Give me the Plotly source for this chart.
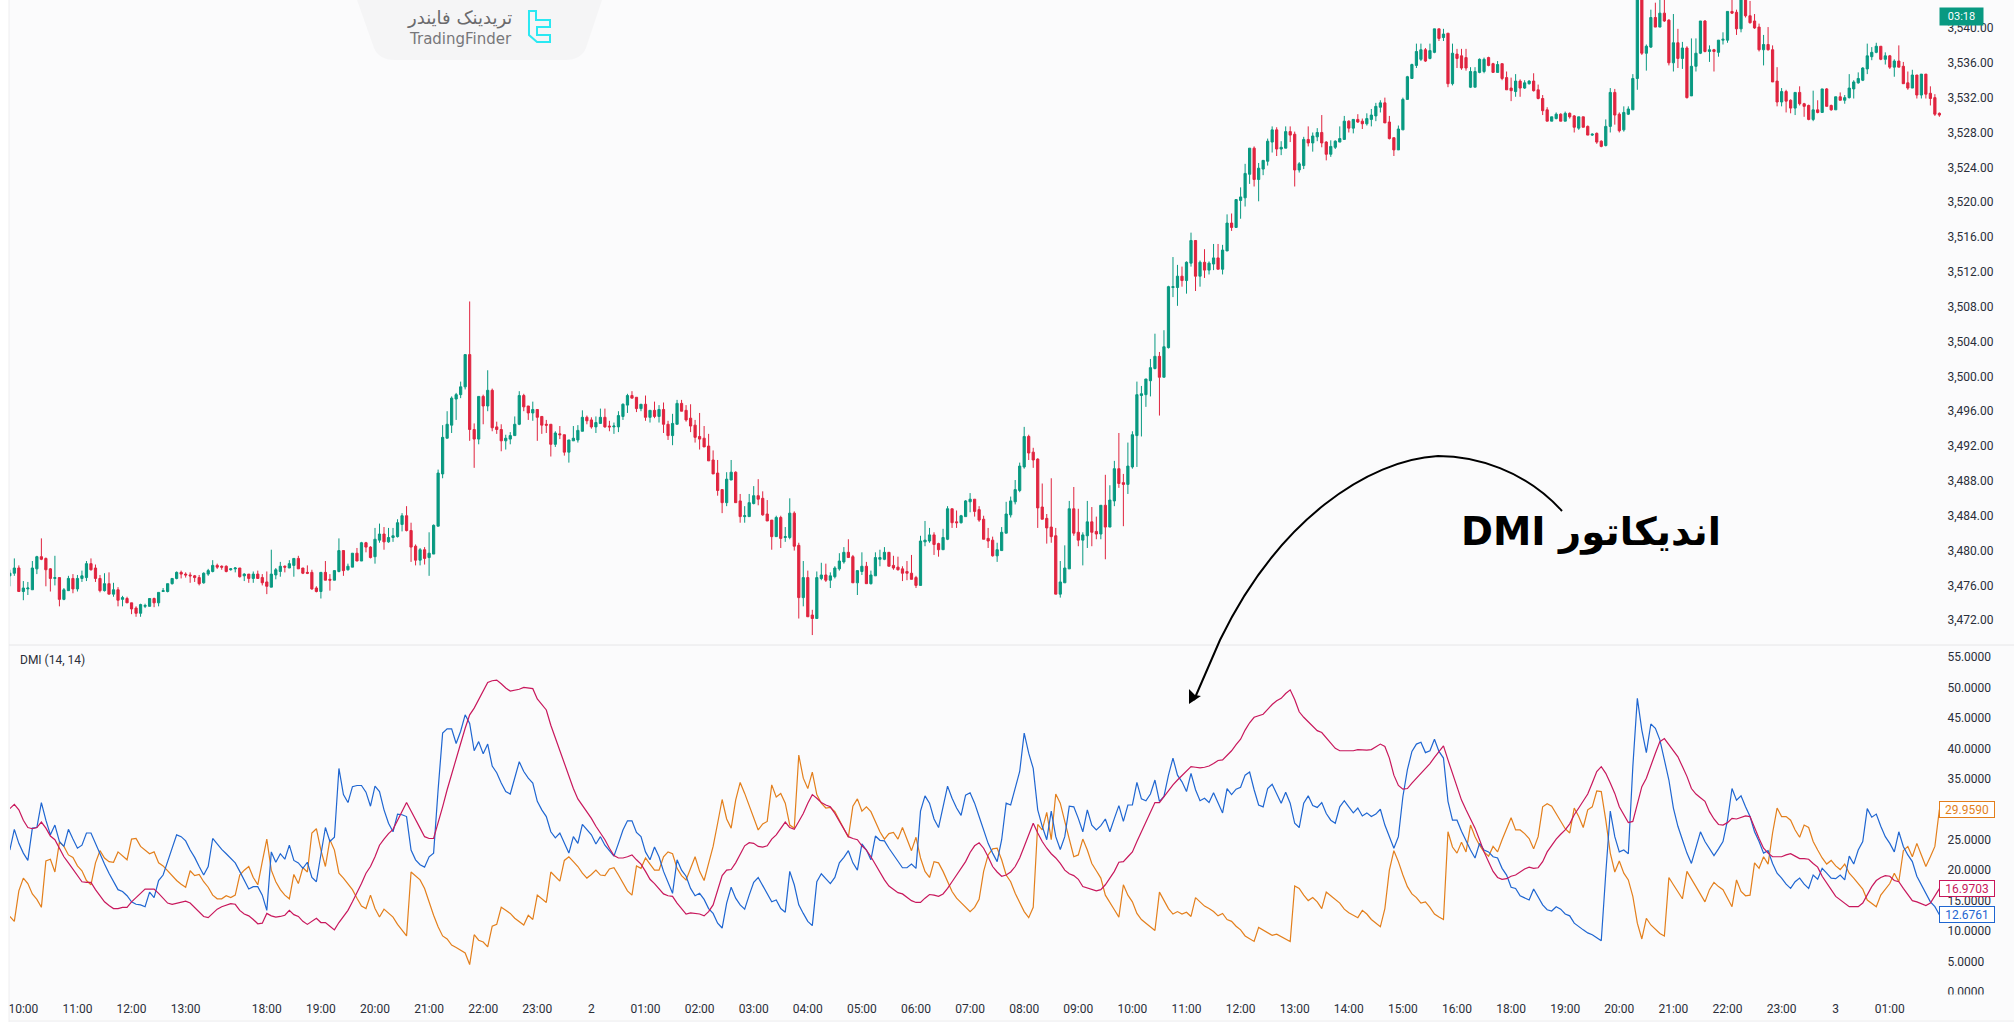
import plotly.graph_objects as go

# ---------- price candles, one row per 5-minute bar: (open, high, low, close) ----------
candles_session_a = [
(3477.1,3477.8,3475.9,3477.4),(3477.4,3479.1,3477.1,3478.0),(3478.0,3478.3,3475.3,3475.3),(3475.3,3476.5,3474.3,3475.7),(3475.6,3476.4,3474.9,3475.7),
(3475.5,3478.8,3475.5,3478.0),(3477.9,3479.4,3477.3,3479.3),(3479.3,3481.4,3478.9,3479.0),(3479.1,3479.2,3475.9,3477.8),(3477.9,3478.0,3475.3,3476.8),
(3476.8,3479.4,3476.0,3476.9),(3476.9,3476.9,3473.6,3474.4),(3474.4,3475.7,3474.3,3475.5),(3475.4,3477.1,3475.4,3476.8),(3476.8,3477.3,3475.1,3475.6),
(3475.6,3477.2,3475.3,3476.8),(3476.8,3477.7,3476.4,3477.1),(3476.9,3478.8,3476.5,3478.5),(3478.5,3479.1,3477.7,3477.8),(3478.0,3478.4,3476.4,3476.8),
(3476.8,3477.2,3475.2,3475.4),(3475.4,3477.4,3475.3,3476.2),(3476.2,3477.5,3475.0,3475.0),(3475.0,3476.3,3474.7,3475.5),(3475.5,3475.8,3473.6,3474.3),
(3474.4,3474.8,3473.6,3474.6),(3474.5,3474.7,3474.0,3474.0),(3474.0,3474.0,3472.7,3473.3),(3473.4,3473.6,3472.4,3472.8),(3472.8,3473.9,3472.4,3473.8),
(3473.6,3473.9,3473.4,3473.7),(3473.6,3474.5,3473.6,3474.5),(3474.5,3474.6,3473.5,3474.0),(3474.0,3475.2,3473.6,3475.2),(3475.3,3475.7,3475.3,3475.4),
(3475.3,3476.2,3475.2,3476.2),(3476.2,3476.8,3476.1,3476.8),(3476.8,3477.6,3476.7,3477.5),(3477.5,3477.7,3476.8,3477.3),(3477.3,3477.5,3476.9,3477.2),
(3477.2,3477.5,3476.3,3477.1),(3477.1,3477.2,3476.4,3476.9),(3476.9,3477.2,3476.0,3476.2),(3476.3,3477.5,3476.2,3477.4),(3477.3,3477.9,3477.1,3477.7),
(3477.6,3478.9,3477.5,3478.3),(3478.3,3478.5,3477.9,3478.1),(3478.2,3478.3,3477.8,3478.1),(3478.2,3478.3,3477.5,3477.6),(3477.8,3478.0,3477.7,3477.9),
(3477.9,3478.1,3477.5,3478.0),(3478.0,3478.0,3476.9,3477.0),(3477.1,3477.4,3476.5,3477.3),(3477.3,3477.3,3476.3,3476.8),(3476.8,3477.6,3476.3,3477.3),
(3477.3,3477.7,3476.8,3476.8),(3476.9,3477.3,3476.0,3476.3),(3476.4,3477.6,3475.0,3475.9),(3475.8,3480.1,3475.8,3477.3),(3477.2,3478.0,3476.7,3477.8),
(3477.6,3478.7,3477.0,3478.2),(3478.2,3478.3,3477.5,3478.1),(3478.0,3478.9,3478.0,3478.5),(3478.3,3479.1,3477.0,3479.1),(3479.1,3479.4,3477.9,3477.9),
(3478.0,3478.0,3477.3,3477.4),(3477.5,3478.3,3477.3,3477.4),(3477.5,3477.8,3475.5,3475.6),(3475.7,3475.9,3475.2,3475.3),(3475.3,3477.5,3474.5,3477.5),
(3477.5,3478.8,3476.6,3476.6),(3476.7,3477.3,3475.4,3476.6),(3476.6,3477.7,3476.6,3477.7),(3477.6,3481.4,3477.5,3480.0),(3480.0,3480.0,3477.1,3477.7),
(3477.8,3478.5,3477.7,3478.2),(3478.1,3479.7,3478.1,3479.7),(3479.7,3480.3,3478.8,3478.8),(3478.8,3481.0,3478.8,3480.9),(3480.9,3481.0,3479.8,3480.4),
(3480.4,3480.5,3479.1,3479.2),(3479.3,3482.6,3478.5,3481.3),(3481.2,3483.1,3480.9,3481.9),(3481.9,3482.7,3480.1,3481.0),(3481.0,3482.6,3480.9,3481.5),
(3481.5,3482.6,3481.0,3481.7),(3481.6,3483.6,3481.5,3483.2),(3483.0,3484.3,3482.2,3484.0),(3484.0,3485.1,3482.2,3482.3),(3482.3,3483.2,3478.7,3480.4),
(3480.5,3480.7,3478.3,3478.9),(3478.9,3480.3,3478.3,3480.1),(3480.1,3480.4,3478.4,3479.1),(3479.2,3482.1,3477.1,3479.7),(3479.6,3483.0,3479.6,3482.9),
(3482.8,3489.3,3482.8,3488.9),
]
candles_session_b = [
(3488.8,3494.4,3488.3,3493.0),(3492.9,3496.0,3492.9,3494.5),(3494.4,3497.7,3493.5,3497.5),(3497.4,3498.1,3495.0,3497.9),(3497.9,3499.4,3497.5,3498.8),
(3498.8,3502.5,3498.5,3502.5),(3502.5,3508.6,3492.6,3493.9),(3493.9,3494.6,3489.5,3492.8),(3492.8,3497.7,3492.2,3497.7),(3497.7,3497.9,3494.5,3496.6),
(3496.6,3500.7,3496.0,3498.4),(3498.4,3498.6,3493.7,3494.1),(3494.2,3494.8,3493.4,3493.9),(3493.9,3494.5,3491.4,3492.6),(3492.6,3493.3,3491.6,3492.9),
(3492.8,3493.6,3492.2,3493.2),(3493.2,3495.4,3493.2,3494.5),(3494.5,3498.3,3494.4,3497.8),(3497.8,3498.0,3496.0,3496.5),(3496.6,3496.6,3495.0,3495.8),
(3495.8,3497.1,3494.9,3496.2),(3496.2,3496.2,3492.6,3495.3),(3495.4,3495.4,3493.4,3494.4),(3494.5,3495.0,3493.5,3494.4),(3494.5,3494.5,3490.8,3492.2),
(3492.2,3493.7,3491.9,3493.5),(3493.4,3494.3,3492.8,3493.3),(3493.3,3493.3,3490.9,3491.3),(3491.3,3492.7,3490.1,3492.7),(3492.6,3494.3,3492.6,3492.9),
(3492.7,3494.4,3492.4,3493.8),(3493.7,3496.1,3493.7,3495.3),(3495.3,3495.5,3494.5,3494.9),(3495.0,3495.3,3494.0,3494.2),(3494.2,3495.4,3493.5,3494.7),
(3494.6,3496.3,3494.6,3495.3),(3495.3,3496.3,3494.1,3494.2),(3494.3,3494.9,3493.7,3494.2),(3494.2,3494.7,3493.4,3494.3),(3494.2,3496.0,3493.6,3495.5),
(3495.4,3496.9,3495.0,3496.8),(3496.7,3498.0,3495.8,3497.8),(3497.8,3498.3,3497.5,3497.5),(3497.6,3497.6,3495.9,3496.3),(3496.3,3496.8,3496.0,3496.8),
(3496.8,3497.8,3494.9,3495.3),(3495.3,3496.1,3494.7,3496.1),(3496.1,3497.1,3495.2,3495.4),(3495.4,3496.7,3494.7,3496.2),(3496.2,3497.0,3493.5,3494.5),
(3494.5,3494.9,3492.7,3493.2),(3493.2,3495.7,3492.1,3494.6),(3494.5,3497.3,3494.5,3496.9),(3496.9,3497.3,3496.0,3496.0),(3496.1,3496.7,3494.8,3495.0),
(3495.2,3496.8,3493.6,3494.3),(3494.4,3495.0,3492.4,3493.0),(3493.1,3495.8,3491.6,3492.8),(3492.9,3494.3,3491.9,3491.9),(3492.0,3493.4,3490.3,3490.3),
(3490.4,3491.5,3488.8,3488.8),(3488.9,3490.4,3486.3,3486.9),(3487.0,3487.0,3484.3,3485.5),(3485.5,3489.0,3485.1,3488.2),(3488.1,3490.4,3488.1,3489.0),
(3489.0,3489.1,3485.5,3485.5),(3485.7,3486.5,3483.2,3483.9),(3483.9,3485.1,3483.2,3484.0),(3483.9,3486.5,3483.9,3485.5),(3485.4,3487.4,3485.3,3486.3),
(3486.3,3488.2,3485.2,3485.9),(3486.0,3486.8,3484.0,3484.1),(3484.2,3485.8,3483.4,3483.4),(3483.5,3483.5,3480.1,3481.6),(3481.6,3484.0,3481.6,3483.8),
(3483.8,3484.0,3480.3,3481.4),(3481.5,3482.7,3481.0,3481.6),(3481.5,3486.0,3481.3,3484.3),(3484.3,3484.5,3480.0,3480.5),(3480.6,3480.9,3472.2,3474.6),
(3474.6,3478.8,3473.6,3476.9),(3476.9,3477.7,3472.4,3472.4),(3472.6,3473.2,3470.3,3472.2),(3472.2,3477.6,3472.2,3476.9),
]
candles_session_c = [
(3476.8,3478.6,3476.6,3477.2),(3477.2,3478.5,3476.4,3476.6),(3476.6,3477.5,3475.7,3477.1),(3477.0,3478.2,3476.8,3478.0),(3477.9,3479.7,3477.7,3478.8),
(3478.7,3480.4,3478.5,3479.8),(3479.8,3481.3,3479.2,3479.2),(3479.3,3479.5,3476.3,3476.3),(3476.3,3477.7,3474.9,3477.7),(3477.6,3479.8,3477.2,3478.2),
(3478.2,3478.7,3476.2,3476.2),(3476.2,3477.7,3476.1,3477.2),(3477.1,3479.8,3477.1,3479.2),(3479.0,3480.1,3478.2,3479.2),(3479.0,3480.4,3478.9,3479.8),
(3479.8,3479.8,3478.2,3478.2),(3478.3,3479.4,3477.8,3478.0),(3478.1,3479.3,3477.7,3477.8),(3477.9,3478.2,3476.5,3477.4),(3477.6,3478.8,3476.6,3477.4),
(3477.4,3479.5,3476.7,3476.7),(3476.9,3477.1,3475.7,3476.0),(3476.0,3481.7,3476.0,3481.1),(3481.0,3483.4,3480.5,3481.2),(3481.1,3482.6,3480.9,3481.8),
(3481.8,3482.1,3479.5,3480.7),(3480.8,3480.9,3479.3,3480.1),(3480.1,3482.5,3480.1,3481.5),(3481.3,3485.1,3481.2,3484.8),(3484.8,3484.8,3482.6,3483.2),
(3483.3,3484.6,3482.6,3483.2),(3483.2,3484.1,3483.1,3484.0),(3483.9,3485.8,3483.9,3485.7),(3485.6,3486.6,3484.4,3485.9),(3485.9,3485.9,3483.9,3484.5),
(3484.7,3485.1,3483.3,3483.5),(3483.6,3484.0,3481.3,3481.3),(3481.4,3482.6,3480.3,3481.1),(3481.2,3481.6,3479.3,3479.4),(3479.4,3480.9,3478.7,3480.1),
(3480.0,3482.7,3480.0,3482.1),(3482.0,3485.6,3482.0,3484.2),(3484.1,3486.2,3483.8,3485.7),(3485.6,3488.1,3485.3,3487.0),(3486.9,3490.1,3486.7,3489.7),
(3489.6,3494.2,3489.4,3493.1),(3493.1,3493.3,3490.4,3491.2),(3491.3,3491.8,3489.5,3490.4),(3490.5,3490.6,3482.6,3484.9),(3485.0,3487.7,3483.6,3483.6),
(3483.7,3484.2,3480.8,3482.6),(3482.7,3488.3,3480.9,3481.6),(3481.7,3482.6,3475.0,3475.0),(3475.0,3478.8,3474.6,3476.4),(3476.3,3480.6,3476.3,3478.0),
(3477.9,3485.7,3477.9,3484.8),(3484.8,3487.3,3481.7,3482.0),(3482.1,3484.8,3480.5,3481.2),(3481.2,3482.1,3478.3,3481.8),(3481.7,3485.7,3480.3,3483.3),
(3483.3,3485.0,3480.5,3482.1),(3482.2,3483.9,3481.3,3481.9),(3481.9,3485.2,3481.3,3485.2),(3485.2,3488.7,3479.0,3482.7),(3482.7,3487.5,3482.7,3485.8),
(3485.7,3490.3,3485.1,3489.4),(3489.4,3493.5,3487.2,3487.7),(3487.8,3488.8,3482.8,3487.6),(3487.6,3492.4,3486.5,3489.7),(3489.6,3493.7,3489.4,3493.3),
(3493.2,3499.4,3489.6,3497.9),(3497.8,3498.9,3493.1,3498.0),(3497.9,3499.7,3496.5,3499.7),
]
candles_session_d = [
(3499.5,3502.0,3497.7,3501.0),(3500.9,3504.9,3500.8,3502.3),(3502.3,3502.8,3495.5,3499.9),(3499.9,3505.3,3499.9,3503.4),(3503.3,3510.4,3503.2,3510.3),
(3510.2,3513.7,3509.1,3510.3),(3510.2,3512.8,3508.1,3511.5),(3511.5,3512.6,3510.3,3511.0),(3511.0,3513.2,3509.5,3513.1),(3513.0,3516.5,3512.6,3515.6),
(3515.6,3515.6,3509.8,3511.5),(3511.5,3513.3,3510.3,3513.1),(3513.1,3514.6,3511.3,3512.2),(3512.2,3513.2,3511.7,3513.0),(3512.9,3515.2,3512.2,3513.6),
(3513.6,3515.2,3512.3,3512.3),(3512.3,3515.1,3511.7,3514.5),(3514.4,3518.6,3514.4,3517.6),(3517.6,3518.7,3516.7,3517.1),(3517.1,3520.3,3517.1,3520.3),
(3520.2,3521.7,3518.1,3520.6),(3520.5,3524.4,3519.5,3523.3),(3523.2,3526.2,3522.1,3526.2),(3526.2,3526.4,3521.8,3522.6),(3522.6,3524.5,3520.1,3523.9),
(3523.8,3524.8,3523.1,3524.8),(3524.7,3527.3,3524.2,3527.0),(3526.9,3528.7,3525.7,3528.3),(3528.3,3528.6,3525.3,3526.1),(3526.1,3527.0,3525.4,3526.3),
(3526.2,3528.7,3526.2,3528.1),(3528.1,3528.7,3526.9,3527.7),(3527.8,3528.1,3521.8,3523.7),(3523.7,3524.6,3523.4,3524.4),(3524.2,3527.5,3523.8,3527.2),
(3527.2,3528.7,3526.4,3526.8),(3526.8,3528.0,3525.8,3527.6),(3527.5,3528.5,3527.0,3528.0),(3528.0,3530.0,3526.3,3526.8),(3526.9,3527.0,3524.8,3525.5),
(3525.5,3527.1,3525.2,3526.4),(3526.3,3527.1,3526.1,3527.0),(3526.9,3528.7,3526.9,3527.3),(3527.2,3529.9,3527.2,3529.3),(3529.3,3529.4,3528.0,3528.5),
(3528.5,3529.5,3527.9,3529.5),(3529.5,3530.1,3529.1,3529.2),(3529.3,3529.6,3528.4,3529.0),(3529.0,3530.2,3528.8,3529.6),(3529.5,3530.7,3528.7,3530.0),
(3529.9,3531.4,3529.3,3531.0),(3530.9,3531.7,3530.3,3531.4),(3531.4,3532.0,3529.1,3529.1),(3529.2,3529.9,3527.2,3527.3),(3527.4,3527.4,3525.3,3526.0),
(3526.0,3528.8,3526.0,3528.4),(3528.3,3532.0,3528.3,3531.8),
]
candles_session_e = [
(3531.8,3534.5,3531.8,3534.4),(3534.2,3535.9,3534.2,3535.8),(3535.7,3538.2,3535.4,3537.3),(3536.4,3538.2,3536.2,3537.5),(3537.5,3537.7,3536.1,3536.2),
(3536.5,3538.2,3536.4,3537.4),(3537.2,3539.9,3537.1,3539.9),(3539.9,3539.9,3538.5,3538.8),(3538.9,3539.9,3538.5,3539.3),(3539.4,3539.4,3533.2,3533.6),
(3533.6,3538.2,3533.4,3537.1),(3537.0,3537.6,3535.4,3536.5),(3536.8,3537.6,3535.2,3535.4),(3536.6,3537.6,3535.1,3535.4),(3533.2,3535.5,3533.1,3535.0),
(3533.2,3535.5,3533.2,3535.0),(3534.9,3536.5,3534.8,3536.4),(3535.0,3536.6,3534.8,3536.4),
(3536.6,3536.7,3535.6,3535.7),(3535.9,3536.0,3534.9,3534.9),(3534.9,3536.2,3534.9,3535.8),(3535.9,3535.9,3534.0,3534.2),(3534.3,3535.0,3532.9,3532.9),
(3533.1,3534.3,3531.6,3532.8),(3532.7,3534.7,3532.1,3533.9),(3533.9,3534.1,3532.1,3533.1),(3533.1,3534.0,3533.0,3533.7),(3533.6,3534.0,3533.5,3533.9),
(3533.9,3534.8,3532.7,3532.8),(3532.9,3533.5,3531.8,3531.9),(3531.9,3532.3,3530.0,3530.5),(3530.6,3530.9,3529.3,3529.3),(3529.3,3529.8,3529.3,3529.8),
(3529.6,3530.3,3529.5,3530.1),(3530.1,3530.2,3529.3,3529.3),(3529.3,3530.4,3529.3,3530.2),(3530.2,3530.3,3529.6,3529.8),(3529.9,3530.0,3528.0,3528.6),
(3528.5,3529.8,3528.3,3529.8),(3529.8,3529.8,3528.6,3528.6),(3528.7,3528.8,3527.7,3527.7),(3527.7,3527.9,3527.6,3527.8),(3527.9,3528.0,3526.7,3526.9),
(3527.0,3527.1,3526.3,3526.4),(3526.5,3529.5,3526.4,3528.7),(3528.7,3533.1,3528.0,3532.6),(3532.6,3533.0,3528.9,3530.0),(3530.1,3530.3,3528.0,3528.2),
(3528.3,3531.0,3528.1,3530.3),(3530.1,3531.0,3530.0,3530.7),(3530.6,3534.7,3530.6,3534.2),(3534.2,3545.0,3532.9,3544.5),(3544.5,3545.0,3536.9,3537.1),
(3537.1,3538.1,3535.1,3537.9),(3537.8,3542.1,3537.7,3541.2),(3541.2,3542.9,3540.1,3540.1),(3540.1,3544.0,3540.1,3541.7),(3541.7,3544.0,3540.7,3540.8),
(3540.9,3541.0,3535.7,3536.0),(3536.0,3541.6,3535.0,3538.3),(3538.3,3539.9,3535.4,3536.5),(3536.5,3538.4,3535.3,3537.7),(3537.7,3537.9,3531.9,3532.0),
(3532.2,3538.8,3532.2,3535.6),(3535.6,3538.8,3535.0,3537.1),(3537.1,3540.8,3537.0,3540.8),(3540.8,3540.9,3537.2,3537.3),(3537.3,3538.0,3536.1,3537.5),
(3537.5,3537.6,3535.0,3537.3),(3537.2,3538.6,3536.7,3538.6),(3538.6,3539.5,3538.1,3538.7),(3538.6,3541.9,3538.3,3541.9),(3541.9,3544.0,3541.6,3541.7),
(3541.8,3542.1,3539.2,3539.9),(3539.9,3545.0,3539.5,3544.3),(3544.3,3545.0,3541.2,3541.4),(3541.4,3543.1,3540.5,3540.6),(3540.8,3541.6,3539.9,3540.0),
(3540.1,3540.5,3537.3,3537.5),(3537.5,3539.2,3535.7,3538.1),(3538.1,3540.1,3537.4,3537.5),(3537.5,3538.0,3533.8,3533.8),(3533.9,3535.5,3531.0,3531.5),
(3531.5,3533.1,3531.0,3532.7),(3532.7,3532.9,3530.3,3531.6),(3531.7,3531.8,3530.2,3530.8),(3530.8,3532.6,3530.0,3532.6),(3532.6,3533.3,3531.1,3531.3),
(3531.3,3531.4,3529.8,3531.0),(3531.1,3531.2,3529.4,3529.5),(3529.5,3532.8,3529.3,3530.6),(3530.6,3531.7,3530.2,3530.3),(3530.3,3533.0,3530.3,3533.0),
(3533.0,3533.1,3531.0,3531.0),(3531.1,3531.2,3530.5,3530.6),(3530.6,3532.1,3530.6,3532.1),(3532.1,3532.6,3531.7,3531.7),(3531.7,3532.3,3531.3,3532.0),
(3532.0,3534.7,3531.9,3533.1),(3533.0,3534.0,3531.9,3533.8),(3533.7,3534.9,3533.6,3534.2),(3534.0,3535.5,3533.9,3535.4),(3535.3,3538.2,3534.7,3536.8),
(3536.7,3537.8,3536.3,3537.2),(3537.2,3538.3,3537.1,3537.9),(3537.9,3537.9,3536.3,3536.4),(3536.4,3537.2,3535.8,3536.8),(3536.8,3536.9,3535.3,3535.5),
(3535.5,3536.4,3534.4,3536.2),(3536.2,3538.0,3535.5,3535.5),(3535.6,3536.1,3533.6,3533.6),(3533.7,3535.0,3532.9,3533.1),(3533.1,3535.2,3533.1,3534.6),
(3534.6,3534.6,3531.9,3532.3),(3532.3,3534.7,3531.9,3534.7),(3534.7,3534.7,3531.9,3532.4),(3532.5,3533.3,3531.1,3531.9),(3532.0,3532.4,3529.9,3530.1),
(3530.2,3530.3,3529.8,3530.0),
]

# ---------- DMI lines, bar by bar ----------
di_minus_a = [12.4,11.6,16.6,18.7,17.8,16.1,15.2,13.9,21.5,21.8,19.7,24.6,23.9,22.5,22.1,20.7,19.9,18.3,17.6,21.2,23.2,22.0,21.4,21.3,23.0,22.3,21.7,25.1,25.2,23.9,23.3,22.7,23.0,21.2,20.7,19.9,19.2,18.3,17.7,17.2,19.9,19.1,19.3,18.1,17.2,15.9,15.3,15.3,15.8,15.5,15.9,19.2,20.0,20.6,18.8,17.6,21.4,25.1,20.0,18.1,16.8,15.9,15.3,19.3,17.8,20.4,19.7,26.1,26.8,23.3,20.6,25.0,23.3,19.5,18.7,17.8,16.8,15.4,14.1,13.7,15.9,13.7,12.3,13.6,12.9,12.3,11.1,10.2,9.2,19.7,19.1,18.4,17.0,14.6,12.6,10.7,9.2,8.7,7.7,7.3,6.9,6.4,4.5,9.4,8.5,8.2,7.4,10.8,11.1,13.9,13.4,12.9,12.1,11.6,11.0,12.6,11.9,15.9,15.3,14.7,19.7,19.0,18.2,21.6,22.2,21.4,20.6,19.5,18.7,19.3,20.0,19.2,19.1,20.2,20.4,19.2,17.8,16.6,15.9,20.7,20.3,22.0,21.0,20.0,20.0,22.2,23.0,22.7,20.3,19.1,18.4,20.3,22.2]
di_minus_b = [19.8,18.3,21.1,23.9,27.7,31.6,28.4,26.9,31.5,34.4,32.6,30.7,28.5,26.6,27.6,28.0,34.0,32.0,32.6,31.0,27.4,26.9,38.9,35.1,33.4,36.1,32.4,31.0,30.2,30.3,29.6,28.2,26.9,25.4,30.5,31.7,29.7,30.4,29.6,27.9,26.3,25.1,26.0,26.2,25.1,27.0,25.2,23.2,25.4,22.0,19.8,18.8,21.4,21.2,19.8,18.0,16.5,15.4,14.7,14.0,13.2,13.9,15.2,19.8,22.5,23.5,23.6,21.7,19.2,18.1,16.2,14.7,13.2,12.2,13.9,27.5,26.6,29.5,25.0,32.5,31.0,28.0,25.0,22.2,22.5,25.1,23.3,21.1,19.9,18.7,15.9,14.6,13.5,12.3,17.6,15.9,14.8,12.9,11.9,11.3,10.7,10.1,16.4,15.0,13.7,12.8,13.2,12.8,13.1,12.4,15.5,14.8,14.1,13.7,13.2,12.5,12.9,11.9,11.6,10.8,10.2,9.2,8.7,8.3,10.6,10.2,9.8,9.3,9.5,9.1,8.7,8.3,17.4,17.0,15.9,15.0,15.5,14.8,13.7,16.4,15.8,15.2,14.6,13.6,13.0,12.6,12.2,13.4,12.8,11.9,11.3]
di_minus_c = [10.7,13.7,20.0,23.2,21.4,19.2,17.3,16.1,15.5,14.6,14.8,13.9,12.8,12.3,11.9,26.3,23.8,22.8,24.6,23.0,27.4,25.5,24.1,23.0,22.3,23.9,23.0,25.0,26.9,28.6,26.6,26.6,26.0,25.2,23.5,25.5,30.4,30.9,30.5,29.3,28.0,26.8,26.1,30.2,28.8,27.0,29.9,30.4,33.0,32.9,28.2,22.8,19.7,21.5,19.5,18.4,15.7,11.3,8.7,12.1,11.0,10.3,9.6,9.2,18.8,17.6,16.5,15.3,19.8,18.5,17.3,16.1,14.8,16.8,18.0,17.3,16.8,15.4,14.0,18.4,16.5,15.8,15.9,21.2,20.3,22.2,21.0,26.1,30.2,28.8,28.8,28.2,26.6,25.4,27.4,27.0,24.7,23.3,22.0,21.0,21.6,20.7,20.1,21.0,19.5,18.7,17.8,16.9,15.1,14.6,14.0,15.9,16.9,17.8,19.5,18.1,23.2,23.9,22.2,24.4,22.5,20.6,22.2,23.9,29.959]
di_plus_a = [23.3,26.7,24.4,22.8,21.6,26.9,27.0,31.1,28.2,25.8,27.4,24.7,23.9,26.7,25.1,23.6,24.1,26.1,26.1,24.3,22.5,21.0,19.5,18.1,16.8,16.5,15.8,14.8,14.4,14.3,14.0,16.4,15.5,18.3,19.2,21.4,23.6,25.8,25.5,24.8,23.3,22.1,20.6,19.2,20.6,25.2,24.3,23.4,22.7,22.0,21.2,19.8,18.3,16.9,17.3,17.3,15.9,13.4,23.0,21.3,22.7,21.8,24.1,21.6,21.2,20.3,21.3,18.8,18.1,22.8,27.0,24.7,25.4,36.7,32.4,31.1,33.7,33.9,33.9,32.8,30.5,33.8,32.9,29.9,27.7,26.3,29.2,29.1,28.8,23.3,21.7,20.9,20.5,22.2,22.8,33.2,42.5,43.2,43.2,40.8,42.8,45.5,44.1,39.6,41.1,39.1,40.7,37.1,36.0,34.3,32.9,32.5,35.1,37.8,36.2,35.1,34.3,31.3,29.9,28.8,26.3,25.3,26.1,24.4,22.8,25.5,24.4,27.5,26.6,25.8,24.3,25.5,24.1,23.2,22.3,24.4,26.6,28.1,28.1,26.2,25.5,23.0,21.7,23.8,22.2,19.8,18.1,16.2,21.7,20.0,19.0,17.0,15.8]
di_plus_b = [16.2,15.2,13.7,12.9,11.3,10.5,14.6,17.2,15.4,14.3,13.6,15.9,18.0,18.8,17.4,16.2,14.8,15.1,13.7,13.1,19.8,17.6,14.3,12.9,11.6,10.9,18.1,19.4,18.6,17.8,18.8,21.2,22.1,23.2,21.2,20.0,24.3,23.3,21.7,25.6,24.9,24.8,23.6,22.6,21.4,20.4,20.4,21.0,20.3,29.7,32.2,31.0,28.4,27.0,30.4,33.8,31.8,30.2,29.0,32.3,32.7,31.0,28.8,26.6,24.4,22.8,21.4,25.0,31.0,30.7,33.7,36.2,42.5,39.2,36.7,29.9,27.2,25.0,29.7,25.5,23.4,25.5,30.5,30.4,28.5,26.3,29.9,27.4,26.6,27.3,28.4,26.3,28.5,30.6,28.0,30.7,30.7,34.4,31.7,31.4,32.5,34.8,31.3,32.1,35.6,38.4,35.6,34.5,32.9,35.9,33.2,31.4,31.8,31.1,32.7,31.0,29.4,33.4,32.4,33.3,33.6,35.6,36.1,33.2,30.7,30.4,33.4,34.1,32.4,31.0,32.8,31.0,27.7,27.0,31.0,32.2,30.6,30.3,31.1,29.3,28.2,27.7,30.4,31.4,30.4,29.4,30.2,28.9,29.4,28.8,29.2]
di_plus_c = [30.0,27.4,25.5,23.6,25.5,32.1,36.5,39.5,40.7,41.0,39.3,39.6,41.5,39.5,38.4,31.3,28.2,28.2,26.4,24.7,23.3,22.0,24.4,23.3,23.0,22.2,22.0,20.3,19.2,17.2,17.0,15.8,15.4,15.1,16.9,15.5,14.3,13.5,13.3,14.0,13.6,12.8,12.5,11.3,10.7,10.2,9.7,9.4,8.9,8.4,19.5,29.7,25.5,23.0,23.3,22.7,37.0,48.2,43.0,39.3,44.0,43.3,41.4,37.8,34.8,30.2,27.2,25.0,22.8,21.1,23.9,26.3,24.7,23.6,22.4,23.5,24.7,28.2,33.4,31.5,32.2,30.4,28.8,26.3,24.7,22.8,23.2,21.1,19.5,18.7,17.7,17.0,18.1,18.7,17.7,17.0,19.2,18.5,20.3,19.5,18.7,18.6,19.2,18.4,22.3,21.0,23.3,24.7,30.1,28.7,29.2,27.2,25.5,24.4,23.0,26.3,23.9,22.5,21.4,19.0,17.6,16.1,14.8,14.0,12.6761]
adx_a = [30.1,30.8,29.9,28.2,27.0,26.8,27.0,27.9,26.9,25.6,25.0,23.6,22.2,21.2,20.1,19.1,18.1,18.0,18.0,16.8,15.7,14.8,14.2,13.7,13.7,13.9,13.9,14.8,15.5,16.2,16.9,16.9,16.9,16.2,15.4,14.6,14.4,14.6,14.7,14.9,14.6,13.9,13.2,12.4,12.2,12.9,13.6,14.0,14.3,14.5,14.4,13.4,12.8,12.5,11.9,11.2,11.3,12.9,12.5,12.3,12.4,12.6,13.4,12.7,12.4,11.6,11.1,11.6,12.1,11.4,11.4,10.8,10.2,11.4,12.4,13.4,14.8,16.2,17.8,19.5,20.6,22.2,24.1,25.1,26.0,26.7,28.2,29.6,31.1,29.7,28.4,26.9,25.5,25.2,25.2,27.7,30.4,33.2,35.6,38.1,40.8,43.3,45.5,46.6,48.0,49.3,50.8,51.1,51.2,50.6,49.9,49.4,49.5,49.7,50.0,49.9,49.8,48.1,47.1,46.3,43.8,41.7,39.7,37.6,35.3,33.4,31.7,30.7,29.6,28.5,27.2,26.1,25.0,23.6,22.4,22.0,22.0,22.2,22.5,21.7,21.0,19.8,18.5,17.8,16.9,16.1,15.8,15.7,14.6,13.6,12.8,13.0,12.9]
adx_b = [12.8,12.5,13.2,14.3,16.8,19.1,20.0,20.1,21.2,22.5,24.0,24.5,24.4,23.9,23.8,24.0,25.1,25.8,26.9,27.9,27.0,26.7,28.0,29.3,31.0,32.4,31.8,31.1,30.7,30.4,29.3,28.0,26.6,25.5,25.2,25.0,24.0,23.3,22.2,20.9,19.5,18.4,17.4,16.8,16.3,16.1,15.5,15.0,14.7,14.7,15.4,16.0,15.9,15.7,16.1,17.0,18.1,19.2,20.3,21.4,22.9,24.0,24.5,23.6,22.2,20.6,19.7,19.0,19.2,19.7,20.6,22.0,23.9,25.8,27.7,26.1,24.7,23.6,22.7,22.0,21.1,20.0,19.4,19.1,18.5,17.3,17.1,16.8,16.6,16.8,17.6,18.7,19.8,21.3,21.4,22.2,23.0,24.7,26.3,28.0,29.6,31.1,31.1,32.1,32.9,34.0,34.8,35.5,36.2,37.0,36.9,36.8,36.9,37.1,37.5,38.0,38.1,38.8,39.6,40.6,41.5,43.0,44.2,45.1,45.3,45.6,46.4,47.2,47.8,48.2,49.0,49.6,48.0,46.0,45.1,44.4,43.6,42.9,42.6,41.7,40.8,40.0,39.6,39.6,39.6,39.6,39.8,39.7,39.7,39.8,40.2]
adx_c = [40.7,40.3,38.4,35.6,33.9,33.3,33.4,34.3,35.1,36.0,36.7,37.5,38.5,39.5,40.4,38.1,35.9,33.4,31.5,29.9,28.5,26.9,25.0,23.0,21.4,19.8,18.8,18.5,18.6,19.0,19.2,19.7,20.2,20.5,20.3,20.4,21.4,23.0,24.1,25.1,25.9,26.6,27.6,29.1,30.2,31.3,32.5,34.3,36.2,37.0,35.9,34.3,32.6,30.4,29.1,27.8,28.0,31.0,33.7,35.1,37.3,39.2,41.1,41.6,40.6,39.5,38.6,37.0,35.4,33.4,32.5,31.9,31.3,29.6,28.4,27.5,27.4,27.8,28.5,28.4,28.6,28.9,28.8,26.9,25.2,23.6,22.8,22.2,22.2,22.2,22.5,22.7,22.3,21.9,21.9,21.8,21.1,20.5,19.0,17.8,16.8,15.7,15.1,14.6,14.0,14.0,14.0,14.6,15.9,17.3,18.3,18.8,19.1,19.0,18.3,18.1,17.0,15.9,15.0,14.8,14.5,14.2,14.6,15.7,16.9703]

# ---------- axis labels ----------
time_labels = ["10:00","11:00","12:00","13:00","18:00","19:00","20:00","21:00","22:00","23:00","2","01:00","02:00","03:00","04:00","05:00","06:00","07:00","08:00","09:00","10:00","11:00","12:00","13:00","14:00","15:00","16:00","18:00","19:00","20:00","21:00","22:00","23:00","3","01:00"]
time_label_bars = [3,15,27,39,57,69,81,93,105,117,129,141,153,165,177,189,201,213,225,237,249,261,273,285,297,309,321,333,345,357,369,381,393,405,417]
price_ticks = [3472,3476,3480,3484,3488,3492,3496,3500,3504,3508,3512,3516,3520,3524,3528,3532,3536,3540]
dmi_ticks = [0,5,10,15,20,25,30,35,40,45,50,55]

rows = candles_session_a + candles_session_b + candles_session_c + candles_session_d + candles_session_e
bars = list(range(len(rows)))
opens, highs, lows, closes = map(list, zip(*rows))

def line_points(part_a, part_b, part_c):
    xs = [i for i in range(len(part_a))]
    xs += [153 + i for i in range(len(part_b))]
    xs += [304 + i for i in range(len(part_c))]
    return xs, part_a + part_b + part_c

W, H = 2014, 1022
LEFT, RIGHT = 10, 1943
UP, DOWN = "#089981", "#e0243f"
BG = "#fbfbfc"
INK = "#2a2e39"
BLUE, ORANGE, CRIMSON = "#1f66d1", "#e37f1c", "#c8175c"

def fx(px):
    return (px - LEFT) / (RIGHT - LEFT)

def fy(py):
    return 1 - py / H

def pth(points):
    return " ".join(f"{c}{fx(x):.5f},{fy(y):.5f}" for c, x, y in points)

fig = go.Figure()
fig.add_trace(go.Candlestick(
    x=bars, open=opens, high=highs, low=lows, close=closes, xaxis="x", yaxis="y",
    increasing=dict(line=dict(color=UP, width=1), fillcolor=UP),
    decreasing=dict(line=dict(color=DOWN, width=1), fillcolor=DOWN),
    whiskerwidth=0, showlegend=False))

for a, b, c, color in [(di_minus_a, di_minus_b, di_minus_c, ORANGE),
                       (di_plus_a, di_plus_b, di_plus_c, BLUE),
                       (adx_a, adx_b, adx_c, CRIMSON)]:
    xs, ys = line_points(a, b, c)
    fig.add_trace(go.Scatter(x=xs, y=ys, mode="lines", xaxis="x", yaxis="y2",
                             line=dict(color=color, width=1.2), showlegend=False))

shapes = [
    dict(type="rect", xref="paper", yref="paper", x0=fx(0), x1=fx(9), y0=0, y1=1,
         fillcolor="#ffffff", line_width=0, layer="above"),
    dict(type="line", xref="paper", yref="paper", x0=fx(9), x1=fx(9), y0=0, y1=1,
         line=dict(color="#eeeeef", width=1), layer="above"),
    dict(type="line", xref="paper", yref="paper", x0=fx(9), x1=fx(2014), y0=fy(645), y1=fy(645),
         line=dict(color="#e6e6e8", width=1), layer="above"),
    dict(type="line", xref="paper", yref="paper", x0=fx(9), x1=fx(2014), y0=fy(1021), y1=fy(1021),
         line=dict(color="#eeeeef", width=1), layer="above"),
    dict(type="rect", xref="paper", yref="paper", x0=fx(1945), x1=fx(2014), y0=fy(1000), y1=fy(994.5),
         fillcolor=BG, line_width=0, layer="above"),
    # logo plate
    dict(type="path", xref="paper", yref="paper", layer="below",
         path="M" + pth([("", 357, 0), ("L", 374, 48)]) + " Q" + f"{fx(379):.5f},{fy(60):.5f} {fx(395):.5f},{fy(60):.5f}"
              + " L" + pth([("", 565, 60)]) + " Q" + f"{fx(581):.5f},{fy(60):.5f} {fx(586):.5f},{fy(48):.5f}"
              + " L" + pth([("", 602, 0)]) + " Z",
         fillcolor="#f5f5f6", line_width=0),
    # logo mark
    dict(type="path", xref="paper", yref="paper", layer="above",
         path="M" + pth([("", 529, 11), ("L", 536, 11), ("L", 536, 20), ("L", 550, 20), ("L", 550, 27),
                         ("L", 537, 27), ("L", 537, 35), ("L", 550, 35), ("L", 550, 42), ("L", 537, 42), ("L", 529, 35)]) + " Z",
         line=dict(color="#2ae8f2", width=2)),
    # curved pointer
    dict(type="path", xref="paper", yref="paper", layer="above",
         path="M" + pth([("", 1562, 511)]) + " C" + pth([("", 1525, 470), ("", 1475, 456), ("", 1438, 456)])
              + " C" + pth([("", 1368, 460), ("", 1278, 520), ("", 1220, 640)]) + " L" + pth([("", 1194, 700)]),
         line=dict(color="#000000", width=2)),
    dict(type="path", xref="paper", yref="paper", layer="above",
         path="M" + pth([("", 1189, 704), ("L", 1189, 689), ("L", 1195, 695), ("L", 1201, 696)]) + " Z",
         fillcolor="#000000", line_width=0),
]

def box(value, text, color, yaxis="y2"):
    return dict(xref="paper", yref=yaxis, x=fx(1939), y=value, xanchor="left", yanchor="middle",
                text=text, showarrow=False, font=dict(family="Roboto", size=12, color=color),
                bgcolor="#ffffff", bordercolor=color, borderwidth=1, borderpad=0, width=54, height=15)

annotations = [
    box(29.959, "29.9590", ORANGE),
    box(16.9703, "16.9703", CRIMSON),
    box(12.6761, "12.6761", BLUE),
    dict(xref="paper", yref="paper", x=fx(1939), y=fy(16.5), xanchor="left", yanchor="middle", text="03:18",
         showarrow=False, font=dict(family="Roboto", size=11, color="#ffffff"), bgcolor=UP, borderpad=0,
         width=43, height=17),
    dict(xref="paper", yref="paper", x=fx(18), y=fy(660), xanchor="left", yanchor="middle", text="DMI (14, 14)",
         showarrow=False, font=dict(family="Roboto", size=12, color=INK)),
    dict(xref="paper", yref="paper", x=fx(1591), y=fy(532), xanchor="center", yanchor="middle",
         text="<b>DMI اندیکاتور</b>", showarrow=False, font=dict(family="DejaVu Sans", size=38.5, color="#000000")),
    dict(xref="paper", yref="paper", x=fx(514), y=fy(18), xanchor="right", yanchor="middle",
         text="تریدینک فایندر", showarrow=False, font=dict(family="DejaVu Sans", size=18, color="#6a6a6c")),
    dict(xref="paper", yref="paper", x=fx(514), y=fy(38.5), xanchor="right", yanchor="middle",
         text="TradingFinder", showarrow=False, font=dict(family="DejaVu Sans", size=15, color="#77777a")),
]

fig.update_layout(
    width=W, height=H, autosize=False,
    margin=dict(l=LEFT, r=W - RIGHT, t=0, b=0, pad=0),
    paper_bgcolor=BG, plot_bgcolor=BG,
    font=dict(family="Roboto", size=12, color=INK),
    showlegend=False, shapes=shapes, annotations=annotations,
    xaxis=dict(domain=[0, 1], anchor="y2", range=[0.04, 428.8], rangeslider=dict(visible=False),
               tickmode="array", tickvals=time_label_bars, ticktext=time_labels, showgrid=False, zeroline=False,
               ticks="outside", ticklen=4, tickcolor="rgba(0,0,0,0)", showline=False,
               tickfont=dict(family="Roboto", size=12, color=INK), automargin=False),
    yaxis=dict(domain=[fy(645), 1], range=[3469.16, 3543.21], side="right", anchor="x",
               tickmode="array", tickvals=price_ticks, ticktext=[f"{v:,.2f}" for v in price_ticks],
               showgrid=False, zeroline=False, showline=False, ticks="outside", ticklen=1,
               tickcolor="rgba(0,0,0,0)", tickfont=dict(family="Roboto", size=12, color=INK), automargin=False),
    yaxis2=dict(domain=[fy(994), fy(646)], range=[-0.33, 56.8], side="right", anchor="x",
                tickmode="array", tickvals=dmi_ticks, ticktext=[f"{v:.4f}" for v in dmi_ticks],
                showgrid=False, zeroline=False, showline=False, ticks="outside", ticklen=1,
                tickcolor="rgba(0,0,0,0)", tickfont=dict(family="Roboto", size=12, color=INK), automargin=False),
)

fig.write_html("out.html", config={"displayModeBar": False},
               post_script="document.body.style.margin='0';document.body.style.background='#ffffff';")
